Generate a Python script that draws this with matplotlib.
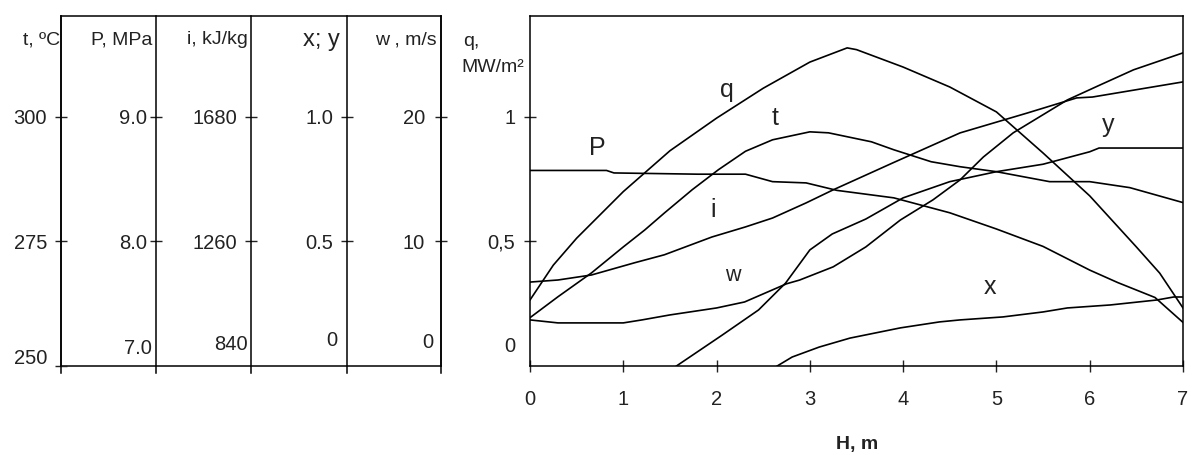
import matplotlib
matplotlib.use("Agg")
import matplotlib.pyplot as plt

plt.rcParams['font.family'] = ['Liberation Sans', 'DejaVu Sans']

# ---- data (H in m, values in physical units) ----
q_H = [0, 0.25, 0.5, 1.0, 1.5, 2.0, 2.5, 3.0, 3.4, 3.5, 4.0, 4.5, 5.0, 5.5, 6.0, 6.5, 6.75, 7.0]
q_val = [0.265, 0.405, 0.513, 0.70, 0.864, 0.995, 1.115, 1.22, 1.277, 1.27, 1.20, 1.12,
         1.02, 0.855, 0.683, 0.478, 0.373, 0.233]          # MW/m2

t_H = [0, 0.3, 0.66, 1.0, 1.23, 1.44, 1.74, 2.02, 2.31, 2.6, 3.0, 3.2, 3.66, 3.9, 4.3,
       4.61, 5.0, 5.57, 6.0, 6.43, 7.0]
t_val = [259.7, 263.9, 268.7, 273.9, 277.3, 280.7, 285.4, 289.4, 293.1, 295.4, 297.0,
         296.8, 295.0, 293.4, 291.0, 290.0, 289.0, 287.0, 287.0, 285.8, 282.8]   # deg C

P_H = [0, 0.82, 0.9, 1.8, 2.31, 2.6, 2.96, 3.29, 3.9, 4.5, 5.0, 5.5, 6.0, 6.3, 6.7, 7.0]
P_val = [8.57, 8.57, 8.55, 8.54, 8.54, 8.48, 8.47, 8.41, 8.35, 8.23, 8.10, 7.96, 7.77,
         7.67, 7.55, 7.35]                                  # MPa

i_H = [0, 0.3, 0.66, 1.12, 1.44, 1.95, 2.31, 2.6, 2.96, 3.25, 3.89, 4.61, 5.33, 5.86, 6.03, 7.0]
i_val = [1123, 1130, 1147, 1188, 1215, 1275, 1309, 1339, 1390, 1434, 1525, 1626, 1693,
         1744, 1747, 1798]                                  # kJ/kg

w_H = [0, 0.3, 1.0, 1.2, 1.5, 2.0, 2.3, 2.75, 2.89, 3.25, 3.6, 3.97, 4.32, 4.61, 4.86,
       5.18, 5.76, 6.11, 6.47, 7.0]
w_val = [3.7, 3.46, 3.46, 3.7, 4.1, 4.66, 5.14, 6.6, 6.9, 7.96, 9.56, 11.72, 13.34, 14.94,
         16.78, 18.72, 21.36, 22.56, 23.78, 25.14]          # m/s

y_H = [1.57, 2.06, 2.45, 2.74, 3.0, 3.24, 3.6, 4.0, 4.5, 5.0, 5.5, 6.0, 6.1, 7.0]
y_val = [0, 0.124, 0.225, 0.333, 0.466, 0.53, 0.59, 0.675, 0.74, 0.78, 0.81, 0.86, 0.875, 0.875]

x_H = [2.65, 2.81, 3.1, 3.43, 3.97, 4.39, 4.61, 5.07, 5.5, 5.76, 6.22, 6.72, 6.9, 7.0]
x_val = [0, 0.036, 0.076, 0.112, 0.153, 0.177, 0.185, 0.197, 0.217, 0.233, 0.245, 0.265,
         0.277, 0.277]

H_ticks = [0, 1, 2, 3, 4, 5, 6, 7]

# scale of each quantity: value at the bottom and per unit of the q axis
t_lo, t_span = 250, 50
P_lo, P_span = 7.0, 2.0
i_lo, i_span = 840, 840
xy_lo, xy_span = 0, 1
w_lo, w_span = 0, 20
VMAX = 1.405   # top of the q axis

# ---- layout (pixels) ----
W, HPX = 1192, 455
TOP, BOT = 16, 366
def fx(px): return px / W
def fy(py): return 1 - py / HPX

fig = plt.figure(figsize=(W / 100, HPX / 100), dpi=100)
ink = '#222222'
FS = 14.5
HS = 14

# ---- right plot ----
ax = fig.add_axes([fx(530), fy(BOT), fx(1183) - fx(530), fy(TOP) - fy(BOT)])
ax.set_xlim(0, 7)
ax.set_ylim(0, VMAX)
ax.set_xticks(H_ticks)
ax.set_xticklabels([str(h) for h in H_ticks])
ax.set_yticks([0.5, 1])
ax.set_yticklabels(['0,5', '1'])
ax.tick_params(axis='x', direction='inout', length=9, width=1, labelsize=FS, pad=13, colors=ink)
ax.tick_params(axis='y', direction='inout', length=9, width=1, labelsize=FS, pad=6, colors=ink)
for s in ax.spines.values():
    s.set_linewidth(1.1)

def curve(H, vals, lo, span):
    tw = ax.twinx()
    tw.set_ylim(lo, lo + span * VMAX)
    tw.axis('off')
    tw.plot(H, vals, color='black', lw=1.2)

ax.plot(q_H, q_val, color='black', lw=1.2)
curve(t_H, t_val, t_lo, t_span)
curve(P_H, P_val, P_lo, P_span)
curve(i_H, i_val, i_lo, i_span)
curve(w_H, w_val, w_lo, w_span)
curve(y_H, y_val, xy_lo, xy_span)
curve(x_H, x_val, xy_lo, xy_span)

ax.text(2.11, 1.108, 'q', fontsize=18, ha='center', va='center', color=ink)
ax.text(0.72, 0.875, 'P', fontsize=18, ha='center', va='center', color=ink)
ax.text(2.63, 0.996, 't', fontsize=18, ha='center', va='center', color=ink)
ax.text(1.96, 0.627, 'i', fontsize=18, ha='center', va='center', color=ink)
ax.text(2.17, 0.365, 'w', fontsize=15.5, ha='center', va='center', color=ink)
ax.text(6.2, 0.968, 'y', fontsize=18, ha='center', va='center', color=ink)
ax.text(4.93, 0.317, 'x', fontsize=18, ha='center', va='center', color=ink)

fig.text(fx(463), fy(42), 'q,', fontsize=HS, ha='left', va='center', color=ink)
fig.text(fx(461), fy(67), 'MW/m²', fontsize=HS, ha='left', va='center', color=ink)
fig.text(fx(515), fy(346), '0', fontsize=FS, ha='right', va='center', color=ink)
fig.text(fx(857), fy(444), 'H, m', fontsize=14, fontweight='bold', ha='center', va='center', color=ink)

# ---- left panel: scales of the other quantities ----
frame = fig.add_axes([fx(61), fy(BOT), fx(441) - fx(61), fy(TOP) - fy(BOT)])
frame.set_xticks([])
frame.set_yticks([])
frame.patch.set_visible(False)
for s in frame.spines.values():
    s.set_linewidth(1.1)

scales = [
    # spine px, lo, span, tick labels, bottom label, header, pad, header size
    (61, t_lo, t_span, ['275', '300'], None, 't, ºC', 5.5, HS),
    (156, P_lo, P_span, ['8.0', '9.0'], ('7.0', 152, 348), 'P, MPa', 2, HS),
    (251, i_lo, i_span, ['1260', '1680'], ('840', 248, 345), 'i, kJ/kg', 5.5, HS),
    (347, xy_lo, xy_span, ['0.5', '1.0'], ('0', 337, 341), 'x; y', 5.5, 17),
    (441, w_lo, w_span, ['10', '20'], ('0', 433, 342), 'w , m/s', 7, HS),
]
header_right = [60, 152, 248, 340, 437]

for (xs, lo, span, labels, bottom, head, pad, hs), hr in zip(scales, header_right):
    va = fig.add_axes([fx(xs), fy(BOT), 0.0001, fy(TOP) - fy(BOT)])
    va.patch.set_visible(False)
    for side in ['top', 'right', 'bottom']:
        va.spines[side].set_visible(False)
    va.set_xticks([])
    va.set_ylim(lo, lo + span * VMAX)
    va.set_yticks([lo + 0.5 * span, lo + span])
    va.set_yticklabels(labels)
    va.tick_params(axis='y', direction='inout', length=9, width=1, labelsize=FS, pad=pad, colors=ink)
    va.spines['left'].set_linewidth(1.1)
    va.spines['left'].set_bounds(lo - span * 7 / 249, lo + span * VMAX)
    if bottom is not None:
        fig.text(fx(bottom[1]), fy(bottom[2]), bottom[0], fontsize=FS, ha='right', va='center', color=ink)
    fig.text(fx(hr), fy(40), head, fontsize=hs, ha='right', va='center', color=ink)

# t scale: tick at the bottom and its label a little above
t_ax = fig.axes[-5]
t_ax.set_yticks([t_lo, t_lo + 0.5 * t_span, t_lo + t_span])
t_ax.set_yticklabels(['', '275', '300'])
fig.text(fx(47), fy(359), '250', fontsize=FS, ha='right', va='center', color=ink)

fig.savefig('out.png', dpi=100)
